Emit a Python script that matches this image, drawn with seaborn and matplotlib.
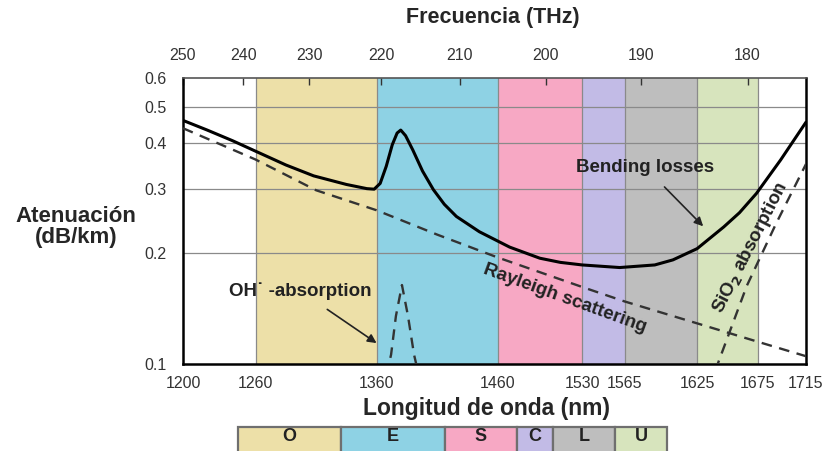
import numpy as np
import pandas as pd
import matplotlib
matplotlib.use("Agg")
import matplotlib.pyplot as plt
from matplotlib.patches import Rectangle
import seaborn as sns

# ---------------- data ----------------
band_names = ["O", "E", "S", "C", "L", "U"]
band_start = [1260, 1360, 1460, 1530, 1565, 1625]
band_end = [1360, 1460, 1530, 1565, 1625, 1675]
band_colors = ["#EDE0A8", "#8ED2E4", "#F7A8C4", "#C2BBE6", "#BEBEBE", "#D7E4BD"]

x_ticks_nm = [1200, 1260, 1360, 1460, 1530, 1565, 1625, 1675, 1715]
top_ticks_thz = [250, 240, 230, 220, 210, 200, 190, 180]
y_ticks = [0.1, 0.2, 0.3, 0.4, 0.5, 0.6]

total_nm = [1200, 1220, 1241, 1261, 1285, 1308, 1335, 1352, 1358, 1363, 1368, 1373,
            1377, 1380, 1384, 1390, 1398, 1407, 1416, 1426, 1445, 1470, 1495, 1512,
            1530, 1561, 1590, 1605, 1625, 1647, 1660, 1674, 1694, 1715]
total_att = [0.46, 0.433, 0.405, 0.378, 0.348, 0.325, 0.308, 0.300, 0.299, 0.31, 0.345, 0.395,
             0.425, 0.433, 0.418, 0.382, 0.335, 0.298, 0.272, 0.252, 0.229, 0.208, 0.194, 0.189,
             0.186, 0.183, 0.186, 0.192, 0.206, 0.236, 0.258, 0.291, 0.359, 0.455]

rayleigh_nm = [1200, 1260, 1310, 1360, 1410, 1460, 1530, 1565, 1625, 1675, 1715]
rayleigh_att = [0.438, 0.360, 0.297, 0.262, 0.225, 0.195, 0.162, 0.148, 0.129, 0.115, 0.105]

oh_nm = [1368, 1372, 1376, 1381, 1386, 1391, 1395]
oh_att = [0.093, 0.106, 0.135, 0.164, 0.135, 0.106, 0.093]

sio2_nm = [1640, 1666, 1690, 1715]
sio2_att = [0.096, 0.163, 0.24, 0.35]

# ---------------- style ----------------
sns.set_style("white")
plt.rcParams["font.family"] = ["Liberation Sans", "DejaVu Sans"]

W, H = 828, 451
fig = plt.figure(figsize=(W / 100, H / 100), dpi=100)
ax = fig.add_axes([183 / W, (H - 364) / H, (806 - 183) / W, (364 - 78) / H])

# bands
for s, e, c in zip(band_start, band_end, band_colors):
    ax.axvspan(s, e, color=c, zorder=0, lw=0)
for s in band_start + [band_end[-1]]:
    ax.axvline(s, color="#8a8a8a", lw=0.9, zorder=1)
for y in y_ticks[1:-1]:
    ax.axhline(y, color="#8a8a8a", lw=0.9, zorder=1)

df_tot = pd.DataFrame({"nm": total_nm, "att": total_att})
df_ray = pd.DataFrame({"nm": rayleigh_nm, "att": rayleigh_att})
df_oh = pd.DataFrame({"nm": oh_nm, "att": oh_att})
df_si = pd.DataFrame({"nm": sio2_nm, "att": sio2_att})

sns.lineplot(data=df_tot, x="nm", y="att", ax=ax, color="black", lw=2.2, zorder=4)
for d in (df_ray, df_oh, df_si):
    sns.lineplot(data=d, x="nm", y="att", ax=ax, color="#333333", lw=1.7,
                 zorder=3).lines[-1].set_dashes([4.5, 3.2])

ax.set_yscale("log")
ax.set_xlim(1200, 1715)
ax.set_ylim(0.1, 0.6)
ax.set_yticks(y_ticks)
ax.set_yticklabels([f"{v:g}" for v in y_ticks])
ax.yaxis.set_minor_locator(matplotlib.ticker.NullLocator())
ax.set_xticks(x_ticks_nm)
ax.set_xticklabels([str(v) for v in x_ticks_nm])
ax.tick_params(axis="both", direction="in", length=5, width=1, labelsize=11.5,
               labelcolor="#333333", color="#333333")
ax.tick_params(axis="x", pad=9)
ax.tick_params(axis="y", pad=12)
ax.set_xlabel("")
ax.set_ylabel("")
for sp in ax.spines.values():
    sp.set_visible(True)
    sp.set_color("black")
    sp.set_linewidth(1.8)
ax.spines["top"].set_linewidth(1.2)
ax.spines["top"].set_color("#555555")

conv = lambda v: 3.0e5 / np.asarray(v, dtype=float)
sec = ax.secondary_xaxis("top", functions=(conv, conv))
sec.set_xticks(top_ticks_thz)
sec.set_xticklabels([str(v) for v in top_ticks_thz])
sec.tick_params(direction="in", length=5, width=1, labelsize=11.5,
                labelcolor="#333333", color="#333333", pad=11)
sec.spines["top"].set_visible(False)

# annotations
ax.annotate("Bending losses", xy=(1630, 0.237), xytext=(1582, 0.343),
            ha="center", va="center", fontsize=13.5, fontweight="bold", color="#222222",
            arrowprops=dict(arrowstyle="-|>", color="#222222", lw=1.2,
                            mutation_scale=13, shrinkA=8, shrinkB=0), zorder=6)
ax.annotate("OH\u02d9 -absorption", xy=(1360, 0.114), xytext=(1297, 0.158),
            ha="center", va="center", fontsize=13.5, fontweight="bold", color="#222222",
            arrowprops=dict(arrowstyle="-|>", color="#222222", lw=1.2,
                            mutation_scale=13, shrinkA=8, shrinkB=0), zorder=6)
ax.text(1516, 0.151, "Rayleigh scattering", rotation=-20, ha="center", va="center",
        fontsize=13.5, fontweight="bold", color="#222222", rotation_mode="anchor", zorder=6)
ax.text(1669, 0.207, "SiO$_\\mathbf{2}$ absorption", rotation=63, ha="center", va="center",
        fontsize=13.5, fontweight="bold", color="#222222", rotation_mode="anchor", zorder=6)

# axis titles
fig.text(493 / W, 1 - 18 / H, "Frecuencia (THz)", ha="center", va="center",
         fontsize=15.5, fontweight="bold")
fig.text(487 / W, 1 - 408 / H, "Longitud de onda (nm)", ha="center", va="center",
         fontsize=16.5, fontweight="bold")
fig.text(76 / W, 1 - 227 / H, "Atenuación\n(dB/km)", ha="center", va="center",
         fontsize=16, fontweight="bold", linespacing=1.05)

# band table
tax = fig.add_axes([238 / W, 0, (667 - 238) / W, (H - 427) / H])
tax.set_xlim(band_start[0], band_end[-1])
tax.set_ylim(-6, 24)
tax.axis("off")
for n, s, e, c in zip(band_names, band_start, band_end, band_colors):
    tax.add_patch(Rectangle((s, -10), e - s, 34, facecolor=c, edgecolor="#6f6f6f",
                            lw=1.6, clip_on=False))
    tax.text((s + e) / 2, 12, n, ha="center", va="center", fontsize=13,
             fontweight="bold", color="#222222")

fig.savefig("out.png", dpi=100)
